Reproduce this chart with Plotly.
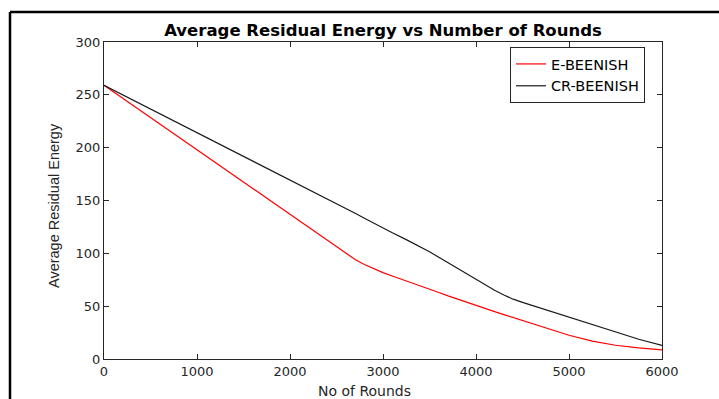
import plotly.graph_objects as go

rounds = [0, 500, 1000, 1500, 2000, 2250, 2400, 2500, 2600, 2700, 2800, 2900, 3000, 3100, 3250,
          3400, 3500, 3600, 3700, 3800, 3900, 4000, 4100, 4200, 4300, 4400, 4500, 4600, 4700,
          4800, 4900, 5000, 5250, 5500, 5750, 6000]
e_beenish = [259, 228.5, 198, 167.3, 136.8, 121.5, 112.2, 106, 99.8, 94.2, 89.5, 85.3, 81.7, 78.5, 74,
             69.2, 66, 62.9, 59.7, 56.6, 53.5, 50.5, 47.7, 44.9, 42, 39.2, 36.3, 33.4, 30.6,
             27.8, 25.1, 22.5, 17, 13, 10.5, 8.7]
cr_beenish = [259, 236.7, 214.4, 192, 169.5, 158.5, 151.8, 147.3, 142.6, 137.9, 133.2, 128.5, 123.8, 119.4, 113,
              106.4, 101.5, 96.2, 91, 85.8, 80.5, 75.2, 70, 65, 60.5, 56.6, 53.6, 50.8, 48,
              45.3, 42.6, 39.4, 32.5, 25.5, 18.7, 12.8]

x_ticks = [0, 1000, 2000, 3000, 4000, 5000, 6000]
y_ticks = [0, 50, 100, 150, 200, 250, 300]

title_text = "Average Residual Energy vs Number of Rounds"
x_title = "No of Rounds"
y_title = "Average Residual Energy"

W, H = 719, 399
ML, MR, MT, MB = 104, 57, 42, 40
PW, PH = W - ML - MR, H - MT - MB

def px(x):
    return (x - ML) / PW

def py(y):
    return (H - MB - y) / PH

fig = go.Figure()
fig.add_trace(go.Scatter(x=rounds, y=e_beenish, mode="lines", name="E-BEENISH",
                         line=dict(color="#ff0000", width=1.2)))
fig.add_trace(go.Scatter(x=rounds, y=cr_beenish, mode="lines", name="CR-BEENISH",
                         line=dict(color="#1a1a1a", width=1.2)))

axis_common = dict(showgrid=False, zeroline=False, showline=True, linecolor="#262626",
                   linewidth=1, mirror="ticks", ticks="inside", ticklen=5,
                   tickcolor="#262626", tickwidth=1,
                   tickfont=dict(family="DejaVu Sans", size=13, color="#262626"))

fig.update_xaxes(range=[0, 6000], tickvals=x_ticks, **axis_common)
fig.update_yaxes(range=[0, 300], tickvals=y_ticks, **axis_common)

fig.update_layout(
    width=W, height=H,
    margin=dict(l=ML, r=MR, t=MT, b=MB, autoexpand=False),
    paper_bgcolor="white", plot_bgcolor="white",
    title=dict(text="<b>" + title_text + "</b>", xref="container", x=383 / W, xanchor="center",
               y=1 - 30 / H, yanchor="middle",
               font=dict(family="DejaVu Sans", size=16.5, color="black")),
    legend=dict(x=px(645), y=py(47), xanchor="right", yanchor="top",
                bgcolor="white", bordercolor="#262626", borderwidth=1,
                font=dict(family="DejaVu Sans", size=14.5, color="black"),
                tracegroupgap=0),
    showlegend=True,
)

# axis titles
fig.add_annotation(text=x_title, xref="paper", yref="paper", x=px(364), y=py(391),
                   xanchor="center", yanchor="middle", showarrow=False,
                   font=dict(family="DejaVu Sans", size=14, color="#262626"))
fig.add_annotation(text=y_title, xref="paper", yref="paper", x=px(54), y=py(206),
                   xanchor="center", yanchor="middle", showarrow=False, textangle=-90,
                   font=dict(family="Liberation Sans", size=14.5, color="#262626"))

# outer figure frame (top and left edges visible in the reference)
fig.add_shape(type="line", xref="paper", yref="paper", x0=px(10), y0=py(12), x1=px(W + 5), y1=py(12),
              line=dict(color="black", width=2.5))
fig.add_shape(type="line", xref="paper", yref="paper", x0=px(10), y0=py(12), x1=px(10), y1=py(H + 5),
              line=dict(color="black", width=2.5))

fig.write_html("out.html", config={"displayModeBar": False},
               post_script="document.body.style.margin='0px';document.body.style.overflow='hidden';")
